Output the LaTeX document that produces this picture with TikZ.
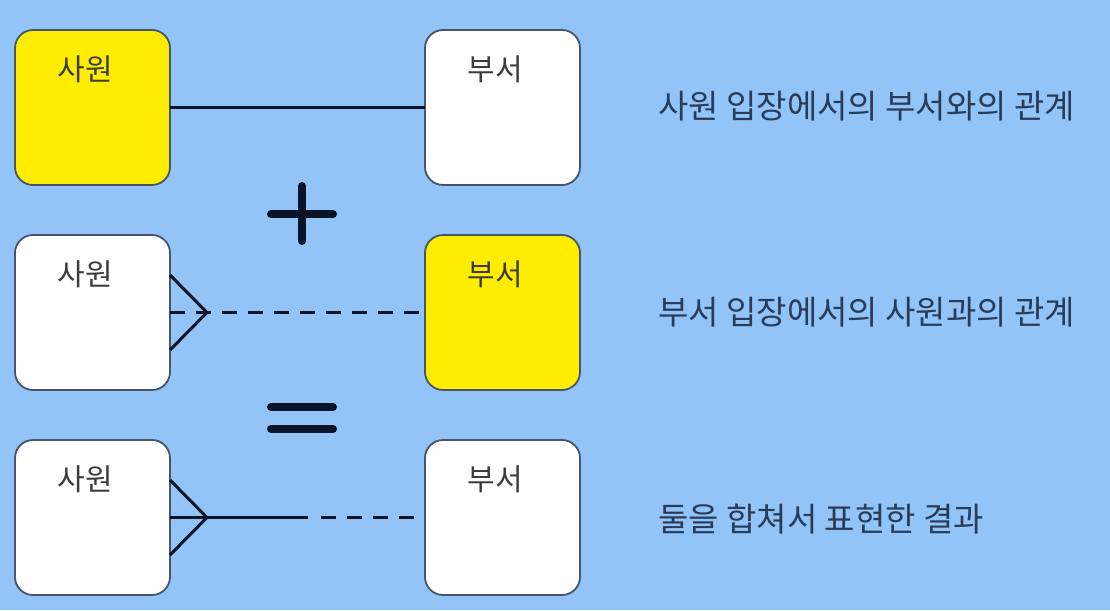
\documentclass[tikz,border=0pt]{standalone}
\usepackage{fontspec}
\newfontfamily\kr{Noto Sans CJK KR}
\definecolor{bg}{RGB}{146,196,247}
\definecolor{yel}{RGB}{255,237,0}
\definecolor{edge}{RGB}{70,85,105}
\definecolor{boxtxt}{RGB}{60,60,60}
\definecolor{sidetxt}{RGB}{40,60,90}
\definecolor{ink}{RGB}{10,20,40}
\tikzset{
  entity/.style={draw=edge, line width=1.8pt, rounded corners=18pt, minimum width=155pt, minimum height=155pt, inner sep=0pt, outer sep=0pt},
  selected/.style={entity, fill=yel},
  plain/.style={entity, fill=white},
  boxlabel/.style={font=\kr\fontsize{30}{34}\selectfont, text=boxtxt, inner sep=0pt},
  sidelabel/.style={font=\kr\fontsize{33}{38}\selectfont, text=sidetxt, anchor=west, inner sep=0pt},
  rel/.style={draw=ink, line width=2.6pt},
  reldash/.style={rel, dash pattern=on 15pt off 11pt},
  foot/.style={draw=ink, line width=3pt},
  sign/.style={draw=ink, line width=8pt, line cap=round},
}
\begin{document}
\begin{tikzpicture}[x=1pt,y=-1pt]
\fill[bg] (0,0) rectangle (1110,610);
\useasboundingbox (0,0) rectangle (1110,610);
% row 1
\node[selected] (s1) at (92.5,107.5) {};
\node[plain] (b1) at (502.5,107.5) {};
\node[boxlabel] (s1t) at (85,69) {사원};
\node[boxlabel] (b1t) at (495,69) {부서};
\draw[rel] (s1.east) -- (b1.west);
\node[sidelabel] (r1) at (658,106) {사원 입장에서의 부서와의 관계};
% plus
\coordinate (pl) at (302,214);
\draw[sign] ([xshift=-31pt]pl) -- ([xshift=31pt]pl);
\draw[sign] ([yshift=-27pt]pl) -- ([yshift=28pt]pl);
% row 2
\node[plain] (s2) at (92.5,312.5) {};
\node[selected] (b2) at (502.5,312.5) {};
\node[boxlabel] (s2t) at (85,274) {사원};
\node[boxlabel] (b2t) at (495,274) {부서};
\coordinate (f2) at (207,312.5);
\draw[foot] ([yshift=-37.5pt]s2.east) -- (f2) -- ([yshift=37.5pt]s2.east);
\draw[reldash] (s2.east) -- (b2.west);
\node[sidelabel] (r2) at (658,312) {부서 입장에서의 사원과의 관계};
% equals
\coordinate (eq) at (302,418);
\draw[sign] ([xshift=-31pt,yshift=-11pt]eq) -- ([xshift=31pt,yshift=-11pt]eq);
\draw[sign] ([xshift=-31pt,yshift=11pt]eq) -- ([xshift=31pt,yshift=11pt]eq);
% row 3
\node[plain] (s3) at (92.5,517.5) {};
\node[plain] (b3) at (502.5,517.5) {};
\node[boxlabel] (s3t) at (85,479) {사원};
\node[boxlabel] (b3t) at (495,479) {부서};
\coordinate (f3) at (207,517.5);
\coordinate (m3) at (308,517.5);
\coordinate (m3b) at (321,517.5);
\draw[foot] ([yshift=-37.5pt]s3.east) -- (f3) -- ([yshift=37.5pt]s3.east);
\draw[rel] (s3.east) -- (m3);
\draw[reldash] (m3b) -- (b3.west);
\node[sidelabel] (r3) at (658,519) {둘을 합쳐서 표현한 결과};
\end{tikzpicture}
\end{document}
